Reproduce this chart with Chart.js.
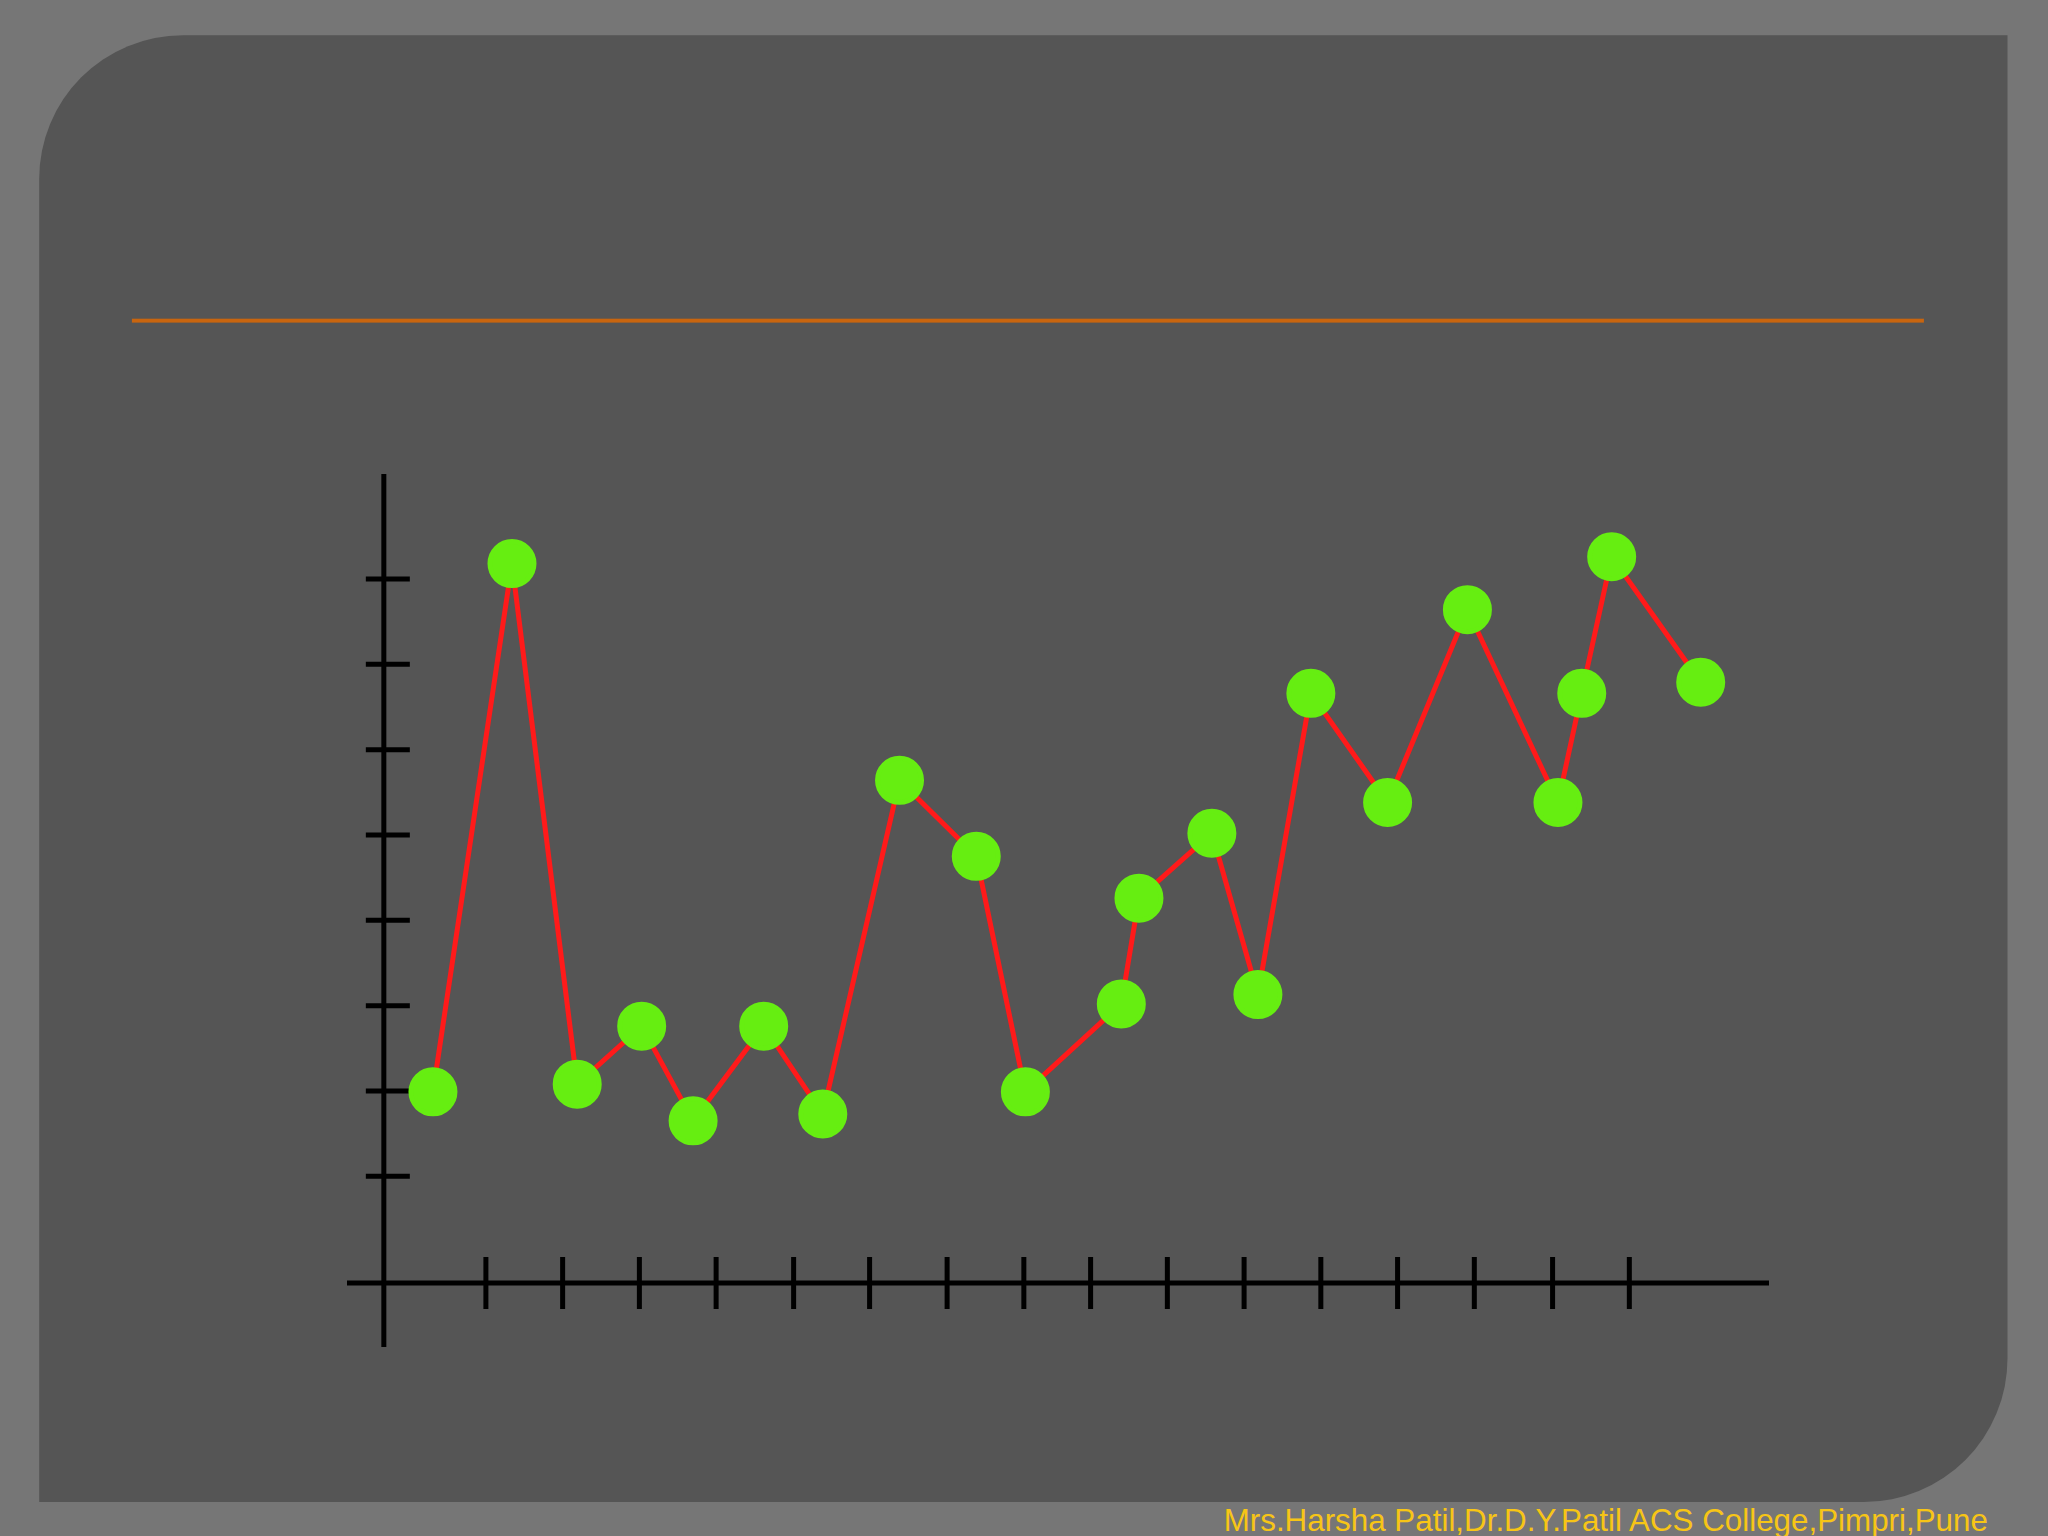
<!DOCTYPE html>
<html><head><meta charset="utf-8">
<script src="https://cdn.jsdelivr.net/npm/chart.js@4"></script>
<style>
html,body{margin:0;padding:0;background:#7a7a7a;overflow:hidden;width:2048px;height:1536px}
#stage{position:absolute;left:0;top:0;width:1568px;height:1176px;transform:scale(1.30612);transform-origin:0 0;background:#767676}
#panel{position:absolute;left:30px;top:27px;width:1507px;height:1123px;background:#555555;border-radius:110px 0 110px 0}
#rule{position:absolute;left:101px;top:244px;width:1372px;height:3px;background:#c8650f}
#foot{position:absolute;right:46px;top:1150px;font:24px "Liberation Sans",Arial,sans-serif;color:#f7c516}
#wrap{position:absolute;left:320px;top:447px;width:1476px;height:927px}
</style></head><body>
<div id="stage"><div id="panel"></div><div id="rule"></div>
<div id="foot">Mrs.Harsha Patil,Dr.D.Y.Patil ACS College,Pimpri,Pune</div></div>
<div id="wrap"><canvas id="c"></canvas></div>
<script>
const xValues=[0.64,1.67,2.52,3.36,4.03,4.95,5.72,6.72,7.72,8.36,9.61,9.84,10.79,11.39,12.08,13.08,14.12,15.30,15.61,16.00,17.16];
const yValues=[1.99,8.18,2.08,2.76,1.65,2.76,1.73,5.64,4.75,1.99,3.02,4.26,5.02,3.13,6.66,5.38,7.64,5.38,6.66,8.26,6.79];
const xTicks=[1.33,2.33,3.33,4.33,5.34,6.33,7.34,8.34,9.21,10.21,11.21,12.21,13.21,14.21,15.23,16.23];
const yTicks=[1,2,3,4,5,6,7,8];
const axesPlugin={id:'axes',beforeDatasetsDraw(ch){
 const c=ch.ctx,x=ch.scales.x,y=ch.scales.y;
 const x0=x.getPixelForValue(0),y0=y.getPixelForValue(-0.25);
 c.save();c.strokeStyle='#000';c.lineWidth=5;
 c.beginPath();c.moveTo(x0,y.getPixelForValue(9.23));c.lineTo(x0,y.getPixelForValue(-1));
 c.moveTo(x.getPixelForValue(-0.48),y0);c.lineTo(x.getPixelForValue(18.05),y0);
 yTicks.forEach(v=>{const p=y.getPixelForValue(v);c.moveTo(x0-18,p);c.lineTo(x0+26,p);});
 xTicks.forEach(v=>{const p=x.getPixelForValue(v);c.moveTo(p,y0-26);c.lineTo(p,y0+26);});
 c.stroke();c.restore();}};
new Chart(document.getElementById('c'),{type:'line',
 data:{datasets:[{data:xValues.map((v,i)=>({x:v,y:yValues[i]})),borderColor:'#ff1a1a',borderWidth:5,
  pointBackgroundColor:'#66ee11',pointBorderColor:'#66ee11',pointRadius:22,pointHoverRadius:22,tension:0,clip:false}]},
 options:{responsive:true,maintainAspectRatio:false,animation:false,
  layout:{padding:0},plugins:{legend:{display:false},tooltip:{enabled:false}},
  scales:{x:{type:'linear',min:-0.48,max:18.05,display:false},y:{min:-1,max:9.23,display:false}}},
 plugins:[axesPlugin]});
</script></body></html>
